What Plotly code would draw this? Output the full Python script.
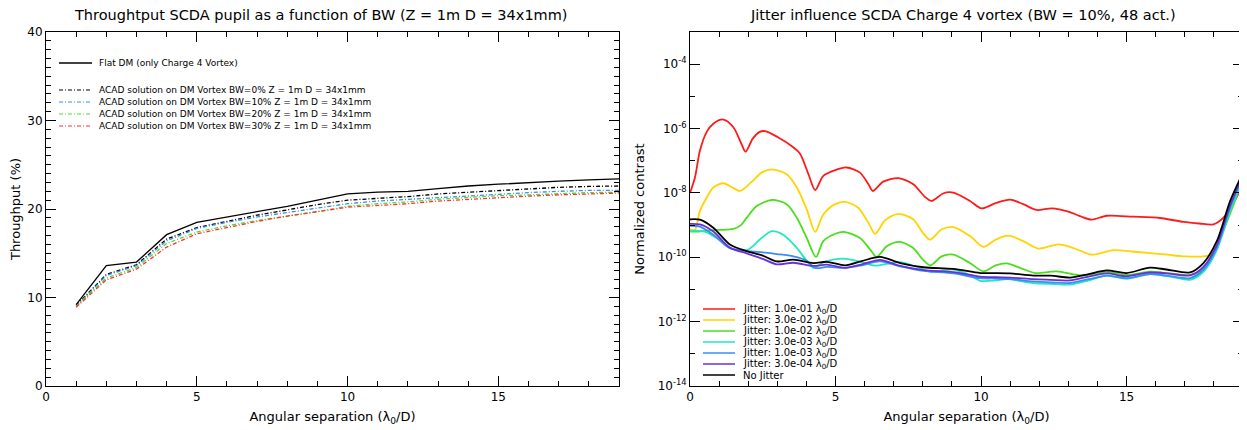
import plotly.graph_objects as go

FONT = "DejaVu Sans"

# ---------------- Left panel data: throughput vs separation ----------------
sep = list(range(1, 20))
flat_dm = [9.2, 13.6, 14.0, 17.1, 18.5, 19.1, 19.7, 20.3, 21.0, 21.7, 21.9, 22.0,
           22.3, 22.6, 22.8, 23.0, 23.15, 23.3, 23.4]
acad_bw0 = [9.1, 12.6, 13.7, 16.6, 17.9, 18.6, 19.3, 19.9, 20.5, 21.0, 21.2, 21.4,
            21.7, 21.9, 22.1, 22.3, 22.45, 22.55, 22.6]
acad_bw10 = [9.0, 12.5, 13.6, 16.4, 17.8, 18.5, 19.1, 19.6, 20.1, 20.6, 20.9, 21.1,
             21.3, 21.5, 21.7, 21.85, 22.0, 22.1, 22.1]
acad_bw20 = [9.0, 12.2, 13.4, 16.1, 17.4, 18.1, 18.7, 19.2, 19.7, 20.3, 20.6, 20.8,
             21.1, 21.3, 21.5, 21.6, 21.75, 21.85, 21.9]
acad_bw30 = [8.9, 12.0, 13.2, 15.7, 17.2, 17.9, 18.6, 19.2, 19.7, 20.2, 20.4, 20.6,
             20.9, 21.1, 21.3, 21.45, 21.6, 21.7, 21.8]

left_names = ["Flat DM (only Charge 4 Vortex)",
              "ACAD solution on DM Vortex BW=0% Z = 1m D = 34x1mm",
              "ACAD solution on DM Vortex BW=10% Z = 1m D = 34x1mm",
              "ACAD solution on DM Vortex BW=20% Z = 1m D = 34x1mm",
              "ACAD solution on DM Vortex BW=30% Z = 1m D = 34x1mm"]
left_series = [flat_dm, acad_bw0, acad_bw10, acad_bw20, acad_bw30]
left_colors = ["#000000", "#000000", "#3c8cf0", "#50dc28", "#ff3030"]
left_dash = ["solid", "4px,2px,1px,2px", "4px,2px,1px,2px", "4px,2px,1px,2px", "4px,2px,1px,2px"]

# ---------------- Right panel data: contrast (log10) vs separation ----------------
red_x = [0, 0.17, 0.34, 0.57, 0.8, 1.15, 1.49, 1.77, 1.91, 2.15, 2.38, 2.58, 3.02, 3.5, 3.78,
         4.07, 4.3, 4.58, 4.99, 5.38, 5.84, 6.13, 6.28, 6.64, 7.16, 7.67, 8.08, 8.3, 8.71,
         9.05, 9.62, 10.02, 10.5, 11.0, 11.45, 11.91, 12.43, 13.0, 13.4, 13.8, 14.32, 15.23,
         16.15, 16.95, 17.5, 17.98, 18.33, 18.65, 19.0]
red_log = [-8.0, -7.52, -6.69, -6.11, -5.85, -5.72, -5.96, -6.48, -6.72, -6.32, -6.11, -6.08,
           -6.27, -6.55, -6.78, -7.42, -7.91, -7.47, -7.29, -7.21, -7.37, -7.73, -7.94, -7.65,
           -7.54, -7.73, -8.13, -8.25, -8.01, -7.99, -8.25, -8.48, -8.32, -8.21, -8.35, -8.53,
           -8.48, -8.58, -8.72, -8.83, -8.71, -8.74, -8.78, -8.9, -8.95, -8.98, -8.77, -8.35, -7.73]

yel_x = [0, 0.17, 0.34, 0.57, 0.8, 1.15, 1.49, 1.72, 2.09, 2.46, 2.81, 3.32, 3.67, 4.01, 4.3,
         4.58, 4.99, 5.33, 5.78, 6.13, 6.36, 6.7, 7.16, 7.67, 8.0, 8.25, 8.65, 9.05, 9.62,
         10.08, 10.5, 10.94, 11.45, 11.97, 12.66, 13.2, 13.8, 14.55, 15.2, 15.8, 16.4, 16.95,
         17.76, 18.04, 18.44, 18.73, 19.0]
yel_log = [-9.13, -9.15, -8.56, -8.15, -7.83, -7.7, -7.85, -7.94, -7.68, -7.37, -7.27, -7.42,
           -7.83, -8.51, -9.21, -8.67, -8.35, -8.28, -8.46, -8.93, -9.27, -8.85, -8.65, -8.82,
           -9.24, -9.45, -9.13, -9.06, -9.34, -9.68, -9.45, -9.33, -9.5, -9.73, -9.6, -9.72,
           -9.92, -9.78, -9.82, -9.87, -9.92, -9.97, -9.96, -9.81, -8.77, -8.15, -7.63]

grn_x = [0, 0.3, 0.57, 1.0, 1.49, 1.75, 1.95, 2.29, 2.81, 3.32, 3.67, 4.01, 4.33, 4.58, 4.99,
         5.29, 5.84, 6.19, 6.41, 6.76, 7.19, 7.67, 8.0, 8.27, 8.65, 9.05, 9.62, 10.08, 10.5,
         10.88, 11.4, 11.86, 12.6, 13.5, 14.3, 15.0, 15.8, 16.5, 17.2, 17.6, 18.0, 18.4, 18.7, 19.0]
grn_log = [-9.2, -9.2, -9.17, -9.15, -9.12, -9.0, -8.77, -8.41, -8.22, -8.35, -8.77, -9.4,
           -9.99, -9.5, -9.27, -9.21, -9.4, -9.76, -9.99, -9.66, -9.52, -9.71, -10.07, -10.25,
           -9.97, -9.92, -10.18, -10.44, -10.25, -10.19, -10.35, -10.49, -10.44, -10.57,
           -10.45, -10.55, -10.45, -10.5, -10.55, -10.4, -9.9, -9.0, -8.3, -7.55]

cyn_x = [0, 0.5, 1.0, 1.37, 1.95, 2.46, 2.81, 3.2, 3.67, 4.0, 4.24, 4.6, 5.27, 5.9, 6.36, 6.8,
         7.2, 7.8, 8.27, 8.7, 9.05, 9.6, 9.97, 10.5, 10.9, 11.8, 12.5, 13.06, 13.7, 14.32,
         15.0, 15.8, 16.5, 17.18, 17.64, 18.1, 18.56, 19.0]
cyn_log = [-9.19, -9.2, -9.45, -9.71, -9.78, -9.4, -9.19, -9.3, -9.71, -10.1, -10.33, -10.15,
           -10.04, -10.15, -10.26, -10.2, -10.15, -10.3, -10.45, -10.4, -10.38, -10.55, -10.73,
           -10.72, -10.68, -10.8, -10.83, -10.85, -10.72, -10.57, -10.67, -10.52, -10.6, -10.7,
           -10.45, -9.78, -8.55, -7.6]

blu_x = [0, 0.34, 0.8, 1.37, 1.95, 2.5, 2.98, 3.55, 4.0, 4.3, 4.7, 5.33, 5.9, 6.53, 7.22, 8.02,
         9.05, 9.97, 10.5, 11.0, 11.8, 12.4, 13.06, 13.7, 14.32, 15.0, 15.8, 16.37, 17.18,
         17.64, 18.1, 18.56, 19.0]
blu_log = [-9.02, -9.05, -9.3, -9.72, -9.8, -9.85, -9.9, -9.97, -10.1, -10.33, -10.3, -10.33,
           -10.25, -10.13, -10.28, -10.42, -10.5, -10.65, -10.66, -10.68, -10.75, -10.78, -10.8,
           -10.68, -10.57, -10.65, -10.52, -10.57, -10.65, -10.38, -9.7, -8.45, -7.5]

pur_x = [0, 0.34, 0.8, 1.37, 1.95, 2.5, 2.98, 3.55, 4.24, 4.7, 5.33, 5.9, 6.53, 7.22, 8.02,
         9.05, 9.97, 10.5, 11.0, 11.8, 12.4, 13.06, 13.7, 14.32, 15.0, 15.8, 16.37, 17.18,
         17.64, 18.1, 18.56, 19.0]
pur_log = [-8.96, -8.98, -9.2, -9.7, -9.88, -10.05, -10.22, -10.17, -10.27, -10.23, -10.33,
           -10.22, -10.08, -10.27, -10.4, -10.46, -10.6, -10.62, -10.63, -10.68, -10.7, -10.72,
           -10.6, -10.5, -10.59, -10.47, -10.5, -10.56, -10.3, -9.62, -8.38, -7.45]

blk_x = [0, 0.34, 0.8, 1.37, 1.95, 2.5, 2.98, 3.55, 4.24, 4.7, 5.33, 5.9, 6.53, 7.22, 8.02,
         9.05, 9.97, 10.5, 11.0, 11.8, 12.4, 13.06, 13.7, 14.32, 15.0, 15.8, 16.37, 17.18,
         17.64, 18.1, 18.56, 19.0]
blk_log = [-8.82, -8.83, -9.08, -9.6, -9.81, -9.95, -10.13, -10.07, -10.18, -10.14, -10.25,
           -10.12, -9.99, -10.18, -10.31, -10.36, -10.49, -10.49, -10.5, -10.57, -10.57, -10.63,
           -10.52, -10.41, -10.49, -10.32, -10.38, -10.47, -10.18, -9.5, -8.25, -7.37]

right_names = ["Jitter: 1.0e-01 λ<sub>0</sub>/D", "Jitter: 3.0e-02 λ<sub>0</sub>/D",
               "Jitter: 1.0e-02 λ<sub>0</sub>/D", "Jitter: 3.0e-03 λ<sub>0</sub>/D",
               "Jitter: 1.0e-03 λ<sub>0</sub>/D", "Jitter: 3.0e-04 λ<sub>0</sub>/D",
               "No Jitter"]
right_x = [red_x, yel_x, grn_x, cyn_x, blu_x, pur_x, blk_x]
right_log = [red_log, yel_log, grn_log, cyn_log, blu_log, pur_log, blk_log]
right_colors = ["#ff1a1a", "#ffd400", "#4cde1c", "#20e8c0", "#3a8ef0", "#6a30d8", "#000000"]

x_ticks = [0, 5, 10, 15]
log_ticks = [-14, -12, -10, -8, -6, -4]

# ---------------- Figure ----------------
fig = go.Figure()

for name, ys, col, dash in zip(left_names, left_series, left_colors, left_dash):
    fig.add_trace(go.Scatter(x=sep, y=ys, mode="lines", name=name, showlegend=False,
                             line=dict(color=col, width=1.3, dash=dash),
                             xaxis="x", yaxis="y"))

for name, xs, ls, col in zip(right_names, right_x, right_log, right_colors):
    fig.add_trace(go.Scatter(x=xs, y=[10 ** v for v in ls], mode="lines", name=name,
                             showlegend=False,
                             line=dict(color=col, width=1.8, shape="spline", smoothing=0.8),
                             xaxis="x2", yaxis="y2"))

# The page body adds an 8px offset; lay the figure out so it lands on the
# 1247x430 window exactly.
OFF = 8
W, H = 1247 - OFF, 430 - OFF
# panel frames in window pixels
L0, L1 = 46, 619
R0, R1 = 690, 1243
T, B = 32, 386
ML, MT = L0 - OFF, T - OFF
MR, MB = (1247 - R1), (430 - B)
PW = W - ML - MR
PH = H - MT - MB


def dx(x):  # window pixel -> plot-area (paper) fraction
    return (x - OFF - ML) / PW


def dy(y):
    return 1 - (y - OFF - MT) / PH


tickfont = dict(family=FONT, size=12, color="black")
titlefont = dict(family=FONT, size=13, color="black")
axis_common = dict(showline=True, linecolor="black", linewidth=1, mirror="allticks",
                   ticks="inside", ticklen=10, tickcolor="black", tickwidth=1,
                   showgrid=False, zeroline=False, tickfont=tickfont, automargin=False)
minor_lin = dict(dtick=1, tick0=0, ticks="inside", ticklen=5, tickcolor="black")

fig.update_layout(
    width=W, height=H,
    margin=dict(l=ML, r=MR, t=MT, b=MB),
    paper_bgcolor="white", plot_bgcolor="white",
    font=dict(family=FONT, size=12, color="black"),
    xaxis=dict(domain=[0, dx(L1)], range=[0, 19], tickvals=x_ticks, minor=minor_lin,
               title=dict(text="Angular separation (λ<sub>0</sub>/D)", standoff=8, font=titlefont),
               anchor="y", **axis_common),
    yaxis=dict(domain=[0, 1], range=[0, 40], tickvals=[0, 10, 20, 30, 40], minor=minor_lin,
               title=dict(text="Throughput (%)", standoff=10, font=titlefont),
               anchor="x", **axis_common),
    xaxis2=dict(domain=[dx(R0), 1], range=[0, 19], tickvals=x_ticks, minor=minor_lin,
                title=dict(text="Angular separation (λ<sub>0</sub>/D)", standoff=8, font=titlefont),
                anchor="y2", **axis_common),
    yaxis2=dict(domain=[0, 1], type="log", range=[-14, -3],
                tickvals=[10.0 ** v for v in log_ticks],
                ticktext=["10<sup>-%d</sup>" % (-v) for v in log_ticks],
                minor=dict(tickvals=[10.0 ** v for v in [-13, -11, -9, -7, -5, -3]],
                           ticks="inside", ticklen=5, tickcolor="black"),
                title=dict(text="Normalized contrast", standoff=10, font=titlefont),
                anchor="x2", **axis_common),
)

annotations = [
    dict(text="Throughtput SCDA pupil as a function of BW (Z = 1m D = 34x1mm)",
         x=dx(321), y=dy(15), xref="paper", yref="paper", showarrow=False,
         xanchor="center", yanchor="middle", font=dict(family=FONT, size=14.5)),
    dict(text="Jitter influence SCDA Charge 4 vortex (BW = 10%, 48 act.)",
         x=dx(963), y=dy(15), xref="paper", yref="paper", showarrow=False,
         xanchor="center", yanchor="middle", font=dict(family=FONT, size=14.5)),
]
shapes = []

# left legend (compact, IDL-style)
left_rows = [63, 90, 102, 114, 126]
for name, col, dash, yy in zip(left_names, left_colors, left_dash, left_rows):
    shapes.append(dict(type="line", xref="paper", yref="paper", x0=dx(59), x1=dx(92),
                       y0=dy(yy), y1=dy(yy),
                       line=dict(color=col, width=1.5 if dash == "solid" else 1.1, dash=dash)))
    annotations.append(dict(text=name, x=dx(97), y=dy(yy), xref="paper", yref="paper",
                            showarrow=False, xanchor="left", yanchor="middle",
                            font=dict(family=FONT, size=9)))

# right legend
right_rows = [309, 320, 331, 342, 353, 364, 375]
for name, col, yy in zip(right_names, right_colors, right_rows):
    shapes.append(dict(type="line", xref="paper", yref="paper", x0=dx(703), x1=dx(735),
                       y0=dy(yy), y1=dy(yy), line=dict(color=col, width=1.5)))
    annotations.append(dict(text=name, x=dx(741), y=dy(yy), xref="paper", yref="paper",
                            showarrow=False, xanchor="left", yanchor="middle",
                            font=dict(family=FONT, size=10)))

fig.update_layout(annotations=annotations, shapes=shapes)

fig.write_html("out.html")
